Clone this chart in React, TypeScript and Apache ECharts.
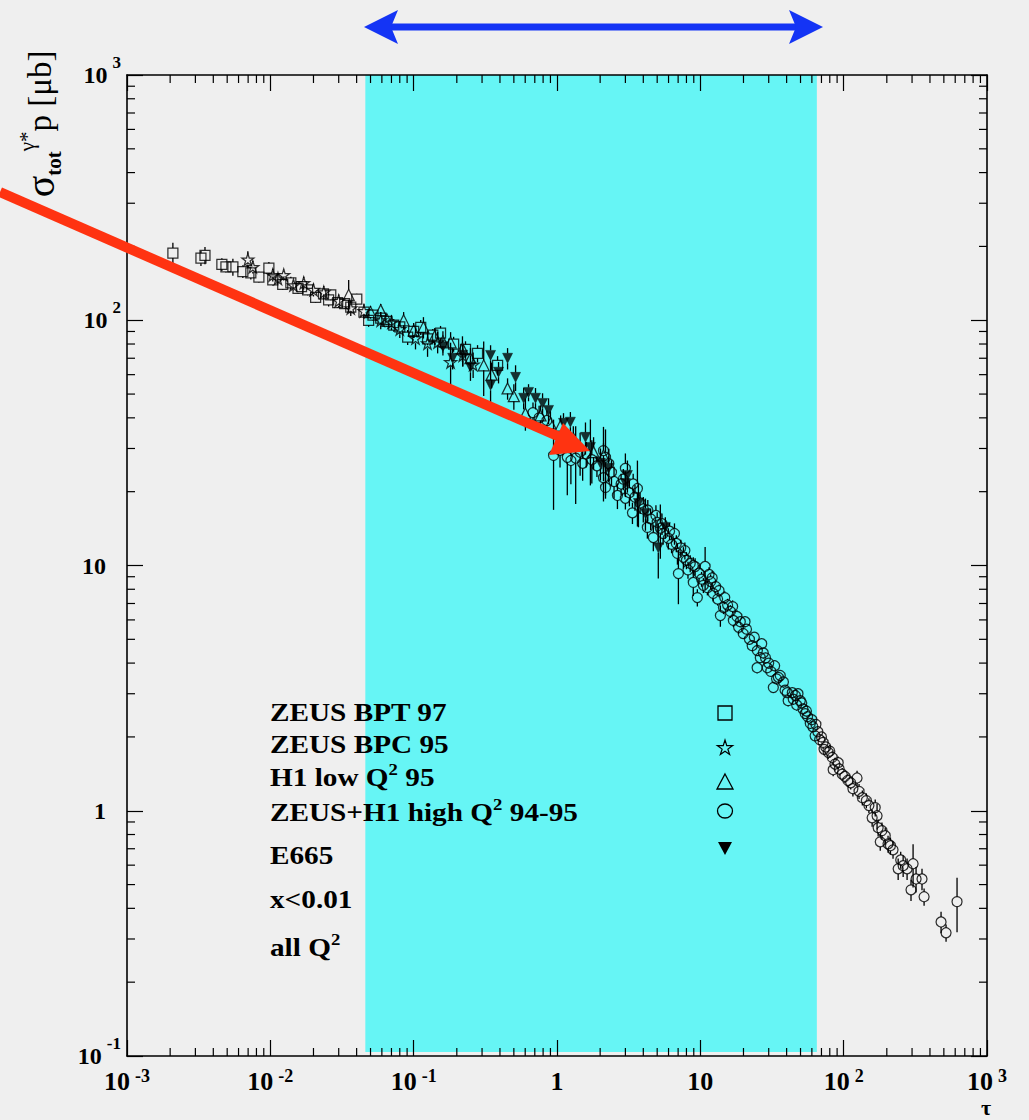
import React, { useEffect, useRef } from "react";
import * as echarts from "echarts";

// ---- axis ticks ----
const xTickExponents = [-3, -2, -1, 0, 1, 2, 3];
const yTickExponents = [-1, 0, 1, 2, 3];
const minorMultipliers = [2, 3, 4, 5, 6, 7, 8, 9];
const xMinorDecades = [0.001, 0.01, 0.1, 1, 10, 100];
const yMinorDecades = [0.1, 1, 10, 100];

// ---- highlighted tau band ----
const bandRange = [0.046, 65];

// ---- data: [tau, sigma (µb), relative error] ----
const zeusBpt97 = [
  [0.00209, 188, 0.1], [0.00328, 179, 0.07], [0.0035, 184, 0.08], [0.00459, 169, 0.06], [0.0049, 165, 0.05],
  [0.00548, 165, 0.08], [0.00643, 158, 0.06], [0.00731, 156, 0.06], [0.00832, 150, 0.05], [0.00977, 163, 0.06],
  [0.0104, 146, 0.05], [0.0122, 140, 0.05], [0.0139, 142, 0.06], [0.0156, 135, 0.05], [0.0165, 137, 0.04],
  [0.0182, 133, 0.05], [0.0207, 124, 0.05], [0.0235, 128, 0.05], [0.0255, 121, 0.06], [0.0264, 127, 0.05],
  [0.0295, 118, 0.05], [0.033, 117, 0.05], [0.0364, 113, 0.06], [0.0401, 122, 0.05], [0.045, 108, 0.05],
  [0.0485, 100, 0.06], [0.052, 105, 0.05], [0.0589, 102, 0.06], [0.065, 99, 0.05], [0.0726, 95.5, 0.06],
  [0.08, 94, 0.05], [0.0908, 85.3, 0.07], [0.1, 90, 0.06], [0.112, 93.6, 0.07], [0.125, 84, 0.06],
  [0.136, 86.9, 0.06], [0.154, 88.6, 0.07], [0.19, 80, 0.07], [0.23, 76, 0.08], [0.279, 73.3, 0.08],
  [0.385, 65.5, 0.09],
];

const zeusBpc95 = [
  [0.00697, 177, 0.08], [0.00755, 165, 0.06], [0.0104, 153, 0.06], [0.0113, 148, 0.05], [0.0124, 153, 0.05],
  [0.0145, 139, 0.05], [0.0171, 142, 0.06], [0.02, 133, 0.06], [0.0236, 130, 0.06], [0.03, 120, 0.06],
  [0.0364, 112, 0.07], [0.045, 109, 0.07], [0.0589, 100, 0.08], [0.07, 98, 0.07], [0.08, 92, 0.08],
  [0.103, 84.5, 0.1], [0.125, 80.6, 0.12], [0.147, 81.4, 0.1], [0.181, 67.5, 0.2], [0.22, 72, 0.1],
  [0.26, 66, 0.12],
];

const h1LowQ2 = [
  [0.0352, 127, 0.15], [0.05, 108, 0.06], [0.0589, 110, 0.06], [0.065, 101, 0.05], [0.0851, 100, 0.08],
  [0.1, 91, 0.07], [0.117, 93.6, 0.1], [0.14, 86, 0.08], [0.16, 82, 0.1], [0.181, 81.3, 0.1],
  [0.219, 76.8, 0.12], [0.249, 70, 0.1], [0.308, 65.5, 0.25], [0.35, 60, 0.12], [0.452, 52.7, 0.1],
  [0.5, 49, 0.12], [0.602, 41.7, 0.15], [0.767, 40.9, 0.1], [0.9, 38, 0.12], [1.06, 37.2, 0.1],
  [1.3, 33, 0.12], [1.8, 29, 0.15], [2.11, 28.1, 0.12],
];

const zeusH1HighQ2 = [
  [0.68, 42, 0.1], [0.75, 40, 0.12], [0.85, 39, 0.1],
  [0.946, 28.1, 0.4], [1.05, 29.5, 0.15], [1.18, 27.6, 0.3], [1.25, 26.8, 0.2], [1.35, 27.4, 0.35],
  [1.45, 29, 0.2], [1.51, 26.1, 0.15], [1.6, 28.5, 0.12], [1.75, 27, 0.2], [1.9, 25.5, 0.1], [2.11, 29.4, 0.25],
  [2.18, 27.6, 0.3], [2.11, 22.8, 0.2], [2.18, 20.8, 0.1], [2.3, 26, 0.15], [2.4, 24, 0.12], [2.5, 22, 0.15],
  [2.64, 19.3, 0.12], [2.8, 21.5, 0.1], [2.9, 22.5, 0.1], [3.0, 24.9, 0.15], [3.0, 18.8, 0.1], [3.2, 19.8, 0.12],
  [3.36, 16.4, 0.1], [3.4, 21.5, 0.1], [3.5, 19, 0.12], [3.64, 20.6, 0.3], [3.8, 18, 0.1], [4.0, 17, 0.12],
  [4.27, 14.3, 0.1], [4.3, 16.8, 0.1], [4.5, 15.5, 0.1], [4.7, 13.0, 0.12], [4.9, 16, 0.1], [5.0, 15, 0.1],
  [5.26, 14.2, 0.25], [5.4, 14.8, 0.1], [5.5, 13.5, 0.1], [5.98, 12.9, 0.1], [6.1, 13.8, 0.08], [6.3, 12.2, 0.08],
  [6.6, 13.5, 0.1], [6.8, 12.3, 0.08], [6.92, 11.2, 0.1], [7.03, 9.27, 0.25], [7.3, 11.8, 0.08], [7.62, 10.8, 0.1],
  [7.8, 11.5, 0.08], [8.0, 10.5, 0.08], [8.2, 9.6, 0.08], [8.5, 10.2, 0.08], [8.93, 10.0, 0.08], [8.93, 8.53, 0.12],
  [9.2, 9.9, 0.08], [9.53, 7.4, 0.08], [9.8, 9.3, 0.08], [10.2, 8.8, 0.07], [10.5, 8.3, 0.07], [10.8, 9.91, 0.2],
  [11.2, 8.12, 0.07], [11.5, 9.2, 0.07], [11.8, 8.6, 0.07], [12.1, 8.9, 0.07], [12.3, 7.69, 0.07], [12.8, 8.2, 0.06],
  [13.2, 7.3, 0.06], [13.5, 7.9, 0.06], [13.8, 6.25, 0.1], [14.5, 6.74, 0.06], [14.8, 7.4, 0.06], [15.5, 6.9, 0.06],
  [16.2, 6.5, 0.06], [16.8, 6.8, 0.06], [17.0, 5.97, 0.06], [18, 6.2, 0.06], [18.5, 5.6, 0.06], [19, 5.9, 0.05],
  [19.9, 5.28, 0.05], [20.5, 5.9, 0.05], [21, 5.5, 0.05], [22, 5.0, 0.05], [23.0, 4.71, 0.05], [23.8, 5.1, 0.05],
  [25, 4.5, 0.05], [24.9, 3.83, 0.05], [26.2, 4.21, 0.05], [26.8, 4.8, 0.05], [27.5, 4.4, 0.05], [28.5, 4.2, 0.05],
  [29.3, 3.83, 0.05], [30, 4.0, 0.05], [31, 3.7, 0.05], [32.3, 3.18, 0.05], [33, 3.9, 0.05], [34, 3.45, 0.05],
  [35, 3.5, 0.05], [36.1, 3.56, 0.05], [38, 3.35, 0.05], [39, 3.1, 0.05], [40.4, 3.03, 0.05], [41, 2.81, 0.05],
  [43.8, 3.03, 0.05], [44.5, 2.85, 0.05], [46, 2.95, 0.05], [47, 2.7, 0.05], [48, 3.0, 0.05], [49.8, 2.81, 0.05],
  [51, 2.75, 0.05], [52, 2.6, 0.05], [53.9, 2.49, 0.05], [55, 2.55, 0.05], [56, 2.42, 0.05], [58.5, 2.27, 0.05],
  [60, 2.35, 0.05], [61, 2.2, 0.05], [63.2, 2.02, 0.05], [64, 2.25, 0.05], [66, 2.1, 0.05], [68, 1.95, 0.05],
  [70, 2.0, 0.05], [71.9, 1.9, 0.06], [73, 1.78, 0.05], [75, 1.82, 0.05], [78, 1.73, 0.06], [80, 1.75, 0.06],
  [83.2, 1.65, 0.06], [84.5, 1.47, 0.06], [87, 1.55, 0.06], [91.6, 1.57, 0.06], [93, 1.48, 0.06], [97.7, 1.41, 0.06],
  [102, 1.38, 0.06], [107, 1.33, 0.06], [112, 1.3, 0.06], [116, 1.23, 0.07], [124, 1.36, 0.07],
  [128, 1.2, 0.07], [135, 1.13, 0.07], [144, 1.1, 0.07], [150, 1.05, 0.07], [158, 0.936, 0.08],
  [166, 1.03, 0.08], [171, 0.954, 0.12], [174, 0.853, 0.08], [180, 0.747, 0.08], [185, 0.83, 0.08],
  [195, 0.791, 0.08], [204, 0.733, 0.08], [212, 0.72, 0.08], [221, 0.693, 0.08], [240, 0.58, 0.1],
  [250, 0.63, 0.08], [260, 0.597, 0.1], [277, 0.58, 0.1], [295, 0.476, 0.1], [305, 0.608, 0.2],
  [320, 0.527, 0.12], [352, 0.527, 0.1], [364, 0.446, 0.08], [478, 0.352, 0.1], [518, 0.318, 0.08],
  [618, 0.426, 0.25],
];

const e665 = [
  [0.16, 78, 0.08], [0.187, 70, 0.1], [0.22, 72, 0.1], [0.249, 64.3, 0.12], [0.344, 71.9, 0.1],
  [0.344, 54.3, 0.2], [0.391, 61.4, 0.1], [0.452, 70, 0.1], [0.514, 58.5, 0.12], [0.585, 48.1, 0.1],
  [0.633, 50.8, 0.08], [0.708, 48.1, 0.1], [0.793, 45.8, 0.1], [0.873, 42.9, 0.12], [1.11, 38, 0.1],
  [1.24, 38.4, 0.1], [1.58, 33.3, 0.15], [1.71, 30.3, 0.3], [2.01, 26.1, 0.15], [2.29, 24.9, 0.12],
  [3.1, 23.3, 0.15], [3.0, 21.6, 0.12], [3.7, 17.9, 0.2], [4.14, 16.3, 0.15], [5.7, 14.3, 0.1],
  [5.09, 11.8, 0.25],
];

const legendLabels = [
  "ZEUS BPT 97",
  "ZEUS BPC 95",
  "H1 low Q{sup|2} 95",
  "ZEUS+H1 high Q{sup|2} 94-95",
  "E665",
  "x<0.01",
  "all Q{sup|2}",
];

const FONT = "Liberation Serif";
const STAR = "path://M50,0 L61,35 L98,35 L68,57 L79,91 L50,70 L21,91 L32,57 L2,35 L39,35 Z";
const BAND_COLOR = "#66f5f5";
const BG = "#efefef";

function powLabelX(v: number) {
  const e = Math.round(Math.log10(v));
  if (e === 0) return "{b|1}";
  if (e === 1) return "{b|10}";
  return "{b|10}{s|" + e + "}";
}
function powLabelY(v: number) {
  const e = Math.round(Math.log10(v));
  if (e === 0) return "{b|1}{p| }";
  if (e === 1) return "{b|10}{p| }";
  return "{b|10}{s|" + e + "}";
}

const richX = {
  b: { fontSize: 26, fontWeight: "bold", fontFamily: FONT, lineHeight: 28, color: "#000" },
  s: { fontSize: 18, fontWeight: "bold", fontFamily: FONT, lineHeight: 6, verticalAlign: "top", padding: [0, 0, 0, 5], color: "#000" },
};
const richY = {
  b: { fontSize: 24, fontWeight: "bold", fontFamily: FONT, lineHeight: 42, color: "#000" },
  s: { fontSize: 17, fontWeight: "bold", fontFamily: FONT, lineHeight: 12, verticalAlign: "top", padding: [0, 0, 0, 5], color: "#000" },
  p: { width: 15, fontSize: 15 },
};

function errorBarRender(params: any, api: any) {
  const x = api.value(0);
  const y = api.value(1);
  const e = api.value(2);
  const c = api.coord([x, y]);
  const lo = api.coord([x, y * (1 - e)]);
  const hi = api.coord([x, y * (1 + e)]);
  const r = 5;
  const children: any[] = [];
  if (hi[1] < c[1] - r) {
    children.push({ type: "line", shape: { x1: c[0], y1: hi[1], x2: c[0], y2: c[1] - r }, style: { stroke: "#000", lineWidth: 1.3 } });
  }
  if (lo[1] > c[1] + r) {
    children.push({ type: "line", shape: { x1: c[0], y1: c[1] + r, x2: c[0], y2: lo[1] }, style: { stroke: "#000", lineWidth: 1.3 } });
  }
  return { type: "group", children };
}

function errSeries(data: number[][]) {
  return {
    type: "custom",
    silent: true,
    z: 3,
    renderItem: errorBarRender,
    encode: { x: 0, y: 1 },
    data,
  };
}

function scatterSeries(name: string, data: number[][], symbol: string, size: number, filled: boolean, rotate = 0) {
  return {
    name,
    type: "scatter",
    silent: true,
    z: 4,
    symbol,
    symbolSize: size,
    symbolRotate: rotate,
    itemStyle: filled
      ? { color: "#000", borderColor: "#000", borderWidth: 0.5 }
      : { color: "rgba(0,0,0,0)", borderColor: "#000", borderWidth: 1.25 },
    data: data.map((d) => [d[0], d[1]]),
  };
}

export default function App() {
  const ref = useRef<HTMLDivElement>(null);

  useEffect(() => {
    if (!ref.current) return;
    const chart = echarts.init(ref.current, null, { renderer: "svg" });

    const xMinor: number[][] = [];
    xMinorDecades.forEach((d) => minorMultipliers.forEach((m) => xMinor.push([d * m, 1])));
    const yMinor: number[][] = [];
    yMinorDecades.forEach((d) => minorMultipliers.forEach((m) => yMinor.push([1, d * m])));

    const axisCommon = {
      type: "log",
      logBase: 10,
      z: 6,
      splitLine: { show: false },
      axisLine: { show: true, onZero: false, lineStyle: { color: "#000", width: 1.6 } },
      axisTick: { show: true, inside: true, length: 16, lineStyle: { color: "#000", width: 1.2 } },
    };

    const legendSymY = [713, 748, 782, 811, 848];
    const legendTextY = [713, 745, 778, 813, 856, 900, 948];
    const sx = 725;
    const starPts = [[50, 0], [61, 35], [98, 35], [68, 57], [79, 91], [50, 70], [21, 91], [32, 57], [2, 35], [39, 35]].map(
      (p) => [sx + ((p[0] - 50) / 50) * 8, legendSymY[1] + ((p[1] - 50) / 50) * 8]
    );

    const option: any = {
      animation: false,
      backgroundColor: BG,
      textStyle: { fontFamily: FONT },
      grid: { left: 127, top: 75, width: 860, height: 981, containLabel: false },
      xAxis: [
        {
          ...axisCommon,
          min: 0.001,
          max: 1000,
          position: "bottom",
          axisLabel: { show: true, margin: 11, formatter: powLabelX, rich: richX },
        },
        {
          ...axisCommon,
          min: 0.001,
          max: 1000,
          position: "top",
          axisLabel: { show: false },
        },
      ],
      yAxis: [
        {
          ...axisCommon,
          min: 0.1,
          max: 1000,
          position: "left",
          axisLabel: { show: true, margin: 6, formatter: powLabelY, rich: richY },
        },
        {
          ...axisCommon,
          min: 0.1,
          max: 1000,
          position: "right",
          axisLabel: { show: false },
        },
      ],
      series: [
        {
          type: "custom",
          silent: true,
          z: 1,
          encode: { x: [0, 1], y: 2 },
          data: [[bandRange[0], bandRange[1], 1]],
          renderItem: (params: any, api: any) => {
            const cs = params.coordSys;
            const a = api.coord([api.value(0), 1]);
            const b = api.coord([api.value(1), 1]);
            return {
              type: "rect",
              shape: { x: a[0], y: cs.y, width: b[0] - a[0], height: cs.height - 4 },
              style: { fill: BAND_COLOR },
            };
          },
        },
        {
          type: "custom",
          silent: true,
          z: 7,
          encode: { x: 0, y: 1 },
          data: xMinor,
          renderItem: (params: any, api: any) => {
            const cs = params.coordSys;
            const p = api.coord([api.value(0), 1]);
            const st = { stroke: "#000", lineWidth: 1.2 };
            return {
              type: "group",
              children: [
                { type: "line", shape: { x1: p[0], y1: cs.y + cs.height, x2: p[0], y2: cs.y + cs.height - 8 }, style: st },
                { type: "line", shape: { x1: p[0], y1: cs.y, x2: p[0], y2: cs.y + 8 }, style: st },
              ],
            };
          },
        },
        {
          type: "custom",
          silent: true,
          z: 7,
          encode: { x: 0, y: 1 },
          data: yMinor,
          renderItem: (params: any, api: any) => {
            const cs = params.coordSys;
            const p = api.coord([1, api.value(1)]);
            const st = { stroke: "#000", lineWidth: 1.2 };
            return {
              type: "group",
              children: [
                { type: "line", shape: { x1: cs.x, y1: p[1], x2: cs.x + 8, y2: p[1] }, style: st },
                { type: "line", shape: { x1: cs.x + cs.width, y1: p[1], x2: cs.x + cs.width - 8, y2: p[1] }, style: st },
              ],
            };
          },
        },
        errSeries(zeusBpt97),
        errSeries(zeusBpc95),
        errSeries(h1LowQ2),
        errSeries(zeusH1HighQ2),
        errSeries(e665),
        scatterSeries("ZEUS BPT 97", zeusBpt97, "rect", 10, false),
        scatterSeries("ZEUS BPC 95", zeusBpc95, STAR, 12, false),
        scatterSeries("H1 low Q2 95", h1LowQ2, "triangle", 11, false),
        scatterSeries("ZEUS+H1 high Q2 94-95", zeusH1HighQ2, "circle", 10, false),
        scatterSeries("E665", e665, "triangle", 10, true, 180),
      ],
      graphic: [
        // y-axis title
        {
          type: "text",
          x: 40,
          y: 124,
          rotation: Math.PI / 2,
          z: 20,
          style: {
            text: "{sig|σ}{sub|tot}{sup|γ*}{m|p [μb]}",
            align: "center",
            verticalAlign: "middle",
            fill: "#000",
            rich: {
              sig: { fontSize: 40, fontFamily: FONT, lineHeight: 48 },
              sub: { fontSize: 21, fontWeight: "bold", fontFamily: FONT, verticalAlign: "bottom", lineHeight: 30 },
              sup: { fontSize: 21, fontFamily: FONT, verticalAlign: "top", lineHeight: 22 },
              m: { fontSize: 33, fontFamily: FONT, lineHeight: 48 },
            },
          },
        },
        // x-axis title
        {
          type: "text",
          x: 986,
          y: 1107,
          z: 20,
          style: { text: "τ", fontSize: 22, lineHeight: 20, fontWeight: "bold", fontFamily: FONT, fill: "#000", align: "center", verticalAlign: "middle" },
        },
        // legend texts
        ...legendLabels.map((t, i) => ({
          type: "text",
          x: 270,
          y: legendTextY[i],
          scaleX: 1.17,
          z: 20,
          style: {
            text: t,
            fontSize: 25,
            fontWeight: "bold",
            fontFamily: FONT,
            lineHeight: 34,
            fill: "#000",
            align: "left",
            verticalAlign: "middle",
            rich: { sup: { fontSize: 16, fontWeight: "bold", fontFamily: FONT, verticalAlign: "top", lineHeight: 14 } },
          },
        })),
        // legend symbols
        { type: "rect", z: 20, shape: { x: sx - 7, y: legendSymY[0] - 7, width: 14, height: 14 }, style: { fill: "none", stroke: "#000", lineWidth: 1.3 } },
        { type: "polygon", z: 20, shape: { points: starPts }, style: { fill: "none", stroke: "#000", lineWidth: 1.2 } },
        { type: "polygon", z: 20, shape: { points: [[sx, legendSymY[2] - 8], [sx + 8, legendSymY[2] + 7], [sx - 8, legendSymY[2] + 7]] }, style: { fill: "none", stroke: "#000", lineWidth: 1.3 } },
        { type: "ellipse", z: 20, shape: { cx: sx, cy: legendSymY[3], rx: 7.5, ry: 7 }, style: { fill: "none", stroke: "#000", lineWidth: 1.3 } },
        { type: "polygon", z: 20, shape: { points: [[sx - 7, legendSymY[4] - 6], [sx + 7, legendSymY[4] - 6], [sx, legendSymY[4] + 7]] }, style: { fill: "#000" } },
        // red arrow
        { type: "line", z: 30, shape: { x1: 0, y1: 192, x2: 562, y2: 438 }, style: { stroke: "#ff3311", lineWidth: 10 } },
        { type: "polygon", z: 30, shape: { points: [[590, 451], [563, 423], [549, 455]] }, style: { fill: "#ff3311" } },
        // blue double arrow
        { type: "line", z: 30, shape: { x1: 390, y1: 27, x2: 797, y2: 27 }, style: { stroke: "#1434f5", lineWidth: 7 } },
        { type: "polygon", z: 30, shape: { points: [[364, 27], [398, 10], [391, 27], [398, 44]] }, style: { fill: "#1434f5" } },
        { type: "polygon", z: 30, shape: { points: [[823, 27], [789, 10], [796, 27], [789, 44]] }, style: { fill: "#1434f5" } },
      ],
    };

    chart.setOption(option);
    return () => chart.dispose();
  }, []);

  return <div ref={ref} style={{ position: "fixed", left: 0, top: 0, width: 1029, height: 1120 }} />;
}
